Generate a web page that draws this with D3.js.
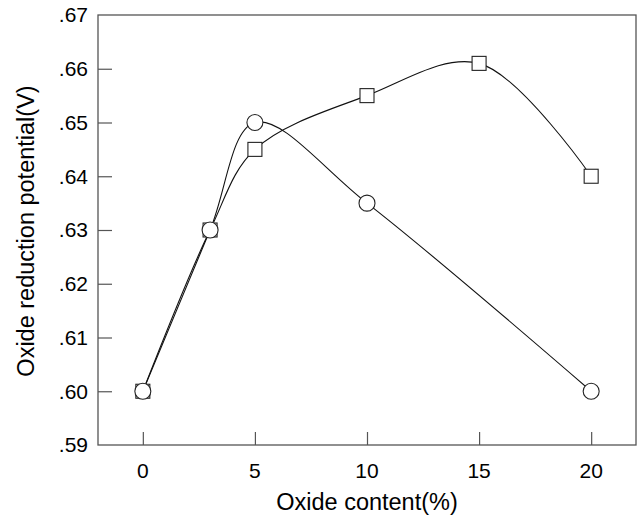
<!DOCTYPE html>
<html>
<head>
<meta charset="utf-8">
<script src="https://cdn.jsdelivr.net/npm/d3@7"></script>
<style>
  body { margin: 0; background: #fff; }
  text { font-family: "Liberation Sans", Arial, sans-serif; fill: #000; }
</style>
</head>
<body>
<div id="chart"></div>
<script>
// data
var circleX = [0, 3, 5, 10, 20]
var circleY = [0.600, 0.630, 0.650, 0.635, 0.600]
var squareX = [0, 3, 5, 10, 15, 20]
var squareY = [0.600, 0.630, 0.645, 0.655, 0.661, 0.640]
var xTicks = [0, 5, 10, 15, 20]
var yTicks = [0.59, 0.60, 0.61, 0.62, 0.63, 0.64, 0.65, 0.66, 0.67]

var width = 642
var height = 518
var margin = { left: 98, right: 6, top: 15, bottom: 73 }
var tickFont = "21px"
var titleFont = "23.5px"

var svg = d3.select("#chart")
    .append("svg")
    .attr("width", width)
    .attr("height", height)

var x = d3.scaleLinear().domain([-2, 22]).range([margin.left, width - margin.right])
var y = d3.scaleLinear().domain([0.59, 0.67]).range([height - margin.bottom, margin.top])

var axisColor = "#555"

// frame
svg.append("rect")
    .attr("x", x(-2)).attr("y", y(0.67))
    .attr("width", x(22) - x(-2)).attr("height", y(0.59) - y(0.67))
    .attr("fill", "none").attr("stroke", axisColor).attr("stroke-width", 1.3)

// left axis, ticks pointing inward
var fmt = function(d) { return d3.format(".2f")(d).replace(/^0/, "") }
var yAxis = svg.append("g")
    .attr("transform", "translate(" + x(-2) + ",0)")
    .call(d3.axisRight(y).tickValues(yTicks).tickSize(14).tickFormat(""))
yAxis.select(".domain").remove()
yAxis.selectAll("line").attr("stroke", axisColor).attr("stroke-width", 1.2)
    .filter(function(d) { return d == 0.59 || d == 0.67 }).remove()

svg.selectAll(".ylab")
    .data(yTicks)
    .enter()
    .append("text")
    .attr("x", x(-2) - 10)
    .attr("y", function(d) { return y(d) })
    .attr("dy", "0.35em")
    .attr("text-anchor", "end")
    .style("font-size", tickFont)
    .text(fmt)

// bottom axis
var xAxis = svg.append("g")
    .attr("transform", "translate(0," + y(0.59) + ")")
    .call(d3.axisTop(x).tickValues(xTicks).tickSize(13).tickFormat(""))
xAxis.select(".domain").remove()
xAxis.selectAll("line").attr("stroke", axisColor).attr("stroke-width", 1.2)

svg.selectAll(".xlab")
    .data(xTicks)
    .enter()
    .append("text")
    .attr("x", function(d) { return x(d) })
    .attr("y", y(0.59) + 33)
    .attr("text-anchor", "middle")
    .style("font-size", tickFont)
    .text(function(d) { return d })

// axis titles
svg.append("text")
    .attr("x", (x(-2) + x(22)) / 2)
    .attr("y", 510)
    .attr("text-anchor", "middle")
    .style("font-size", titleFont)
    .text("Oxide content(%)")

svg.append("text")
    .attr("transform", "translate(34,231) rotate(-90)")
    .attr("text-anchor", "middle")
    .style("font-size", titleFont)
    .text("Oxide reduction potential(V)")

// lines
var line = d3.line()
    .x(function(d) { return x(d[0]) })
    .y(function(d) { return y(d[1]) })
    .curve(d3.curveCatmullRom.alpha(0.5))

var circles = d3.zip(circleX, circleY)
var squares = d3.zip(squareX, squareY)

svg.append("path")
    .attr("d", line(circles))
    .attr("fill", "none").attr("stroke", "#111").attr("stroke-width", 1.1)

svg.append("path")
    .attr("d", line(squares))
    .attr("fill", "none").attr("stroke", "#111").attr("stroke-width", 1.1)

// markers
svg.selectAll(".sq")
    .data(squares)
    .enter()
    .append("rect")
    .attr("x", function(d) { return x(d[0]) - 7 })
    .attr("y", function(d) { return y(d[1]) - 7 })
    .attr("width", 14).attr("height", 14)
    .attr("fill", "#fff").attr("stroke", "#222").attr("stroke-width", 1.1)

svg.selectAll(".ci")
    .data(circles)
    .enter()
    .append("circle")
    .attr("cx", function(d) { return x(d[0]) })
    .attr("cy", function(d) { return y(d[1]) })
    .attr("r", 8)
    .attr("fill", "#fff").attr("stroke", "#222").attr("stroke-width", 1.1)
</script>
</body>
</html>
